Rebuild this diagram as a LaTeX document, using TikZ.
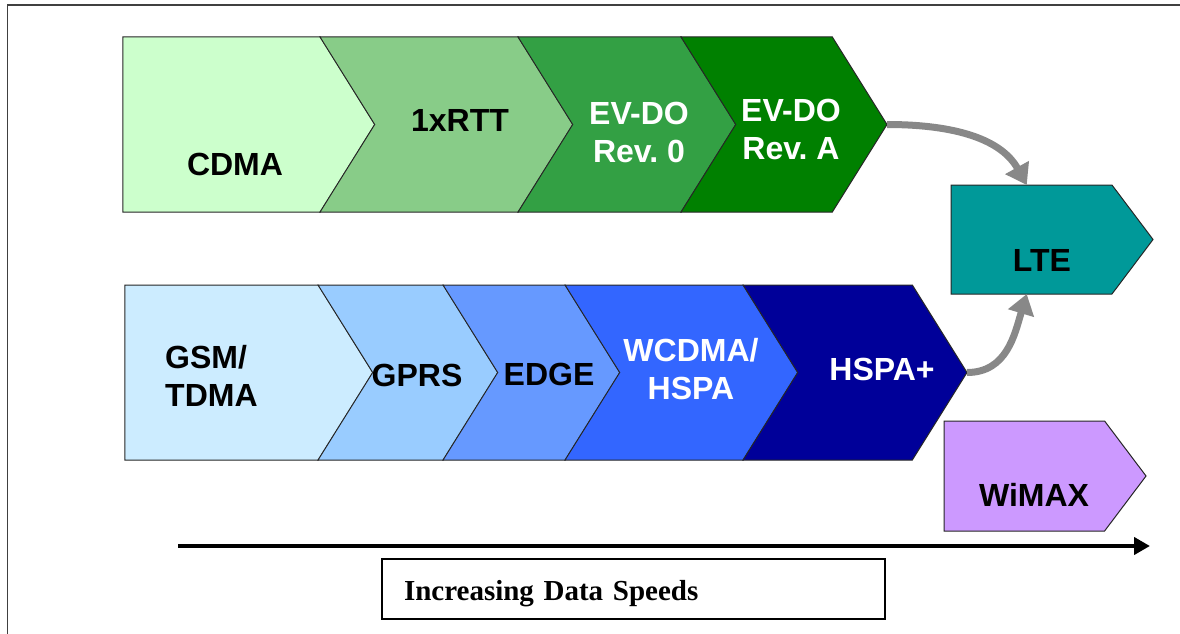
\documentclass[tikz,border=0pt]{standalone}
\usepackage{fontspec}
\setmainfont{Liberation Serif}
\newfontfamily\chevfont{Liberation Sans}
\usepackage{tikz}
\usetikzlibrary{arrows.meta,%
                shapes.symbols,positioning}

\definecolor{cdmaGreen}{RGB}{204,255,204}
\definecolor{rttGreen}{RGB}{136,204,136}
\definecolor{revzeroGreen}{RGB}{51,160,68}
\definecolor{revaGreen}{RGB}{0,128,0}
\definecolor{gsmBlue}{RGB}{204,236,255}
\definecolor{gprsBlue}{RGB}{153,204,255}
\definecolor{edgeBlue}{RGB}{102,153,255}
\definecolor{wcdmaBlue}{RGB}{51,102,255}
\definecolor{hspaBlue}{RGB}{0,0,153}
\definecolor{lteTeal}{RGB}{0,153,153}
\definecolor{wimaxLilac}{RGB}{204,153,255}
\definecolor{flowGray}{RGB}{136,136,136}

\begin{document}
\begin{tikzpicture}[x=1pt,y=-1pt,
  stage/.style={signal,signal to=east,signal pointer angle=116,draw=black!85,line width=1pt,inner sep=0pt,outer sep=0pt,minimum height=175pt},
  notched/.style={stage,signal from=west},
  tag/.style={font=\chevfont\bfseries\fontsize{32}{38}\selectfont,align=center,inner sep=0pt},
  flow/.style={draw=flowGray,line width=7pt,-{Triangle[length=20pt,width=26pt]}}]
\useasboundingbox (0,0) rectangle (1180,634);
\draw[line width=1.3pt,black!75] (7.5,634) -- (7.5,5) -- (1180,5);

\node[stage,fill=cdmaGreen,minimum width=252pt] (cdma) at (221.65,124.5) {};
\node[notched,fill=rttGreen,minimum width=253pt] (rtt) at (446.5,124.5) {};
\node[notched,fill=revzeroGreen,minimum width=218pt] (revzero) at (627,124.5) {};
\node[notched,fill=revaGreen,minimum width=206pt] (reva) at (784,124.5) {};

\node[stage,fill=gsmBlue,minimum width=248pt] (gsm) at (221.65,372.5) {};
\node[notched,fill=gprsBlue,minimum width=180pt] (gprs) at (408,372.5) {};
\node[notched,fill=edgeBlue,minimum width=177pt] (edge) at (531.5,372.5) {};
\node[notched,fill=wcdmaBlue,minimum width=233pt] (wcdma) at (681.5,372.5) {};
\node[notched,fill=hspaBlue,minimum width=224pt] (hspa) at (855,372.5) {};

\node[stage,signal pointer angle=106,fill=lteTeal,minimum width=202pt,minimum height=109pt] (lte) at (1031.5,239.5) {};
\node[stage,signal pointer angle=106,fill=wimaxLilac,minimum width=202pt,minimum height=110pt] (wimax) at (1024.3,476) {};

\node[tag] (cdmaText) at (235,164) {CDMA};
\node[tag] (rttText) at (460,120) {1xRTT};
\node[tag,text=white] (revzeroText) at (639,132) {EV-DO\\Rev.\ 0};
\node[tag,text=white] (revaText) at (791,129) {EV-DO\\Rev.\ A};
\node[tag,align=left,anchor=west] (gsmText) at (165,376) {GSM/\\TDMA};
\node[tag] (gprsText) at (417,375) {GPRS};
\node[tag] (edgeText) at (549,374) {EDGE};
\node[tag,text=white] (wcdmaText) at (691,369) {WCDMA/\\HSPA};
\node[tag,text=white] (hspaText) at (882,369) {HSPA+};
\node[tag] (lteText) at (1042,260) {LTE};
\node[tag] (wimaxText) at (1034,495) {WiMAX};

\draw[flow] (reva.east) .. controls +(70,0) and +(-25,-45) .. (lte.95);
\draw[flow] (hspa.east) .. controls +(40,0) and +(-12,40) .. (lte.265);

\coordinate (axisStart) at (178,546);
\coordinate (axisEnd) at (1150,546);
\draw[line width=4.5pt,-{Triangle[length=16pt,width=17pt]}] (axisStart) -- (axisEnd);

\node[draw,line width=1.3pt,minimum width=503pt,minimum height=60pt,text width=459pt,text height=22pt,text depth=0pt,inner xsep=22pt,align=left,font=\bfseries\fontsize{29}{35}\selectfont] (speeds) at (633.5,589) {Increasing Data Speeds};
\end{tikzpicture}
\end{document}
